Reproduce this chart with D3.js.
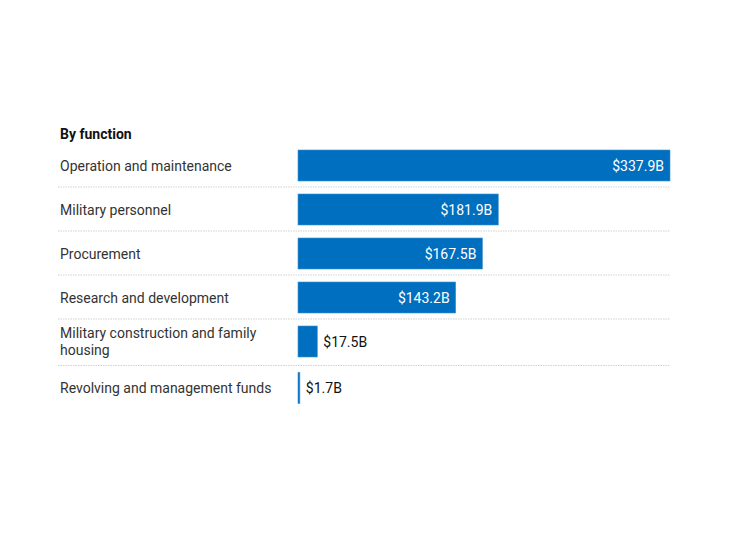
<!DOCTYPE html>
<html><head><meta charset="utf-8">
<script src="https://cdn.jsdelivr.net/npm/d3@7"></script>
<style>body{margin:0;background:#fff}svg{font-family:Roboto,"Open Sans",sans-serif}</style>
</head><body><svg id="c" width="750" height="540"></svg>
<script>
const categories = ["Operation and maintenance","Military personnel","Procurement","Research and development","Military construction and family housing","Revolving and management funds"];
const labelLines = [["Operation and maintenance"],["Military personnel"],["Procurement"],["Research and development"],["Military construction and family","housing"],["Revolving and management funds"]];
const values = [337.9,181.9,167.5,143.2,17.5,1.7];
const title = "By function";

const svg = d3.select("#c");
const x0 = 298, xMax = 670;
const x = d3.scaleLinear().domain([0, 337.9]).range([x0, xMax]);
const barH = 31;
const rowTop = [];
let y = 150;
labelLines.forEach((l,i)=>{ rowTop.push(y); y += l.length>1 ? 46.5 : 44; });

svg.append("text").attr("x",60).attr("y",139).attr("font-size",14).attr("font-weight",700).attr("fill","#111").text(title);

const g = svg.selectAll("g.row").data(values).enter().append("g");
g.append("rect").attr("x",x0).attr("y",(d,i)=>rowTop[i]).attr("width",d=>Math.max(1.5,x(d)-x0)).attr("height",barH)
 .attr("fill","#006fbf").attr("stroke","#3d8fd0").attr("stroke-width",0.6);
g.append("text").attr("y",(d,i)=>rowTop[i]+barH/2+5).attr("font-size",14)
 .attr("x",d=>(x(d)-x0)>80 ? x(d)-6 : x(d)+6)
 .attr("text-anchor",d=>(x(d)-x0)>80?"end":"start")
 .attr("fill",d=>(x(d)-x0)>80?"#fff":"#111").text(d=>"$"+d.toFixed(1)+"B");
g.each(function(d,i){
  const t = d3.select(this).append("text").attr("x",60).attr("font-size",14).attr("fill","#333");
  const lines = labelLines[i];
  const cy = rowTop[i]+barH/2+5;
  lines.forEach((s,j)=>{
    t.append("tspan").attr("x",60).attr("y",cy + (j-(lines.length-1)/2)*17).text(s);
  });
});
// separators
rowTop.slice(0,-1).forEach((t,i)=>{
  const sy = rowTop[i+1]-7;
  svg.append("line").attr("x1",58).attr("x2",670).attr("y1",sy).attr("y2",sy)
    .attr("stroke","#d0d0d0").attr("stroke-width",1).attr("stroke-dasharray","1.5,1");
});
</script></body></html>
